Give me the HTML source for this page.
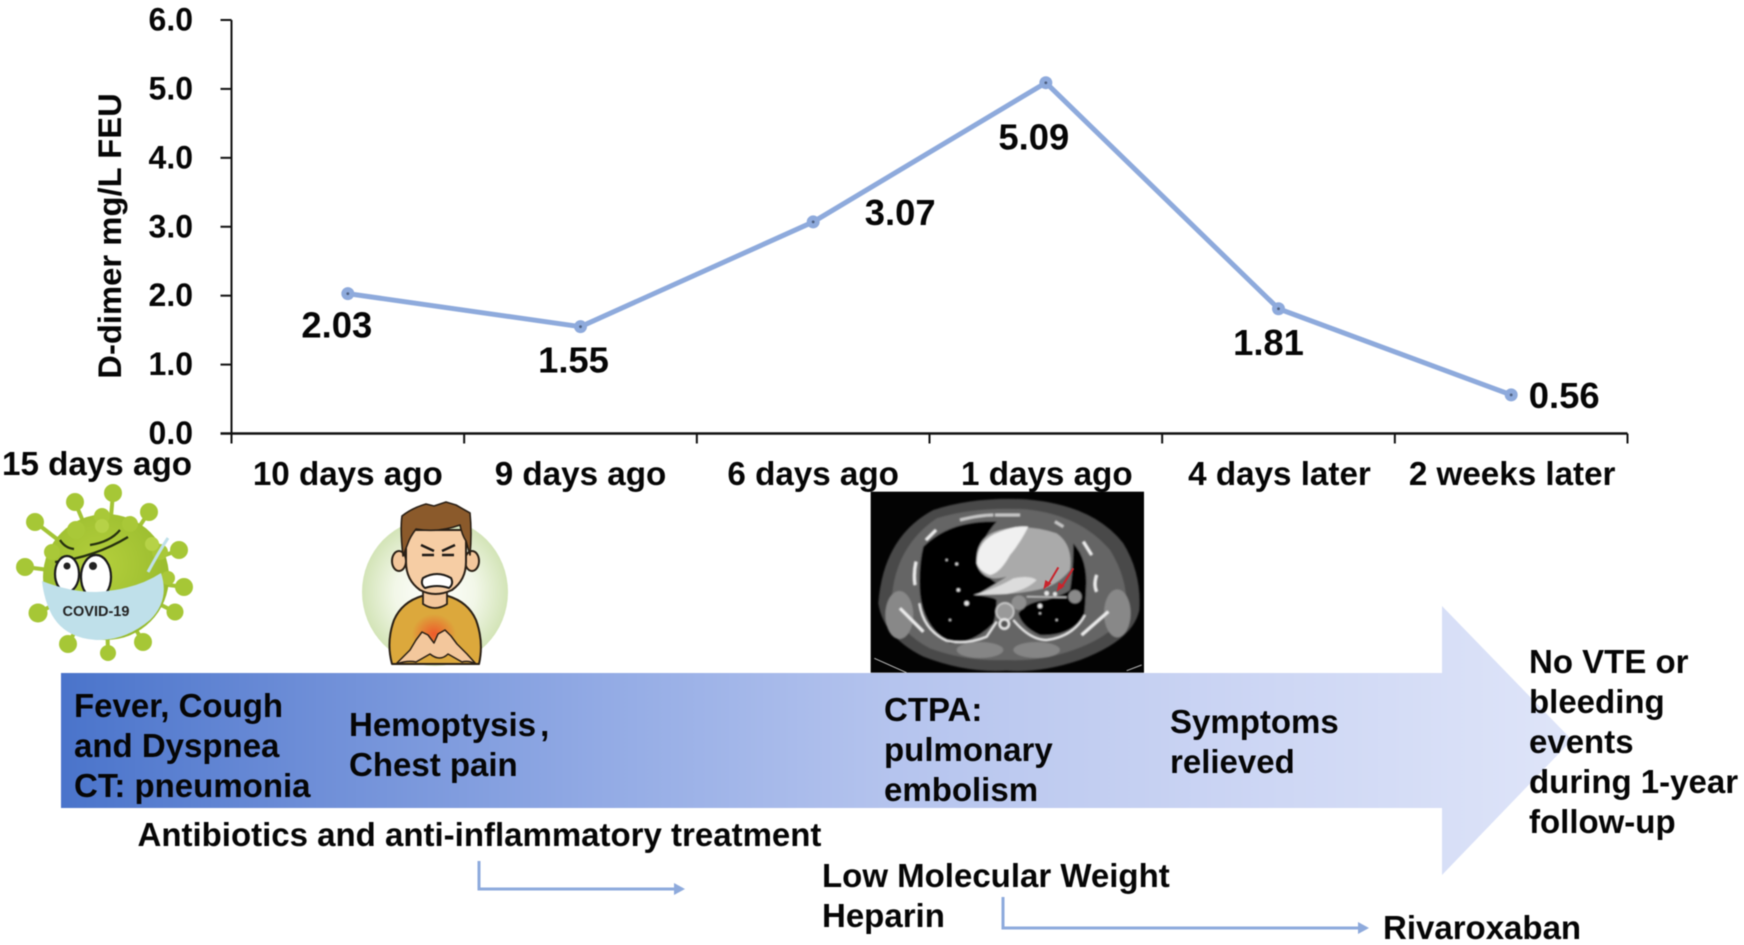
<!DOCTYPE html>
<html lang="en">
<head>
<meta charset="utf-8">
<title>D-dimer timeline</title>
<style>
  html,body{margin:0;padding:0;background:#fff;width:1744px;height:945px;overflow:hidden}
  #figure{position:absolute;left:0;top:0;filter:blur(.5px)}
  text{font-family:"Liberation Sans",sans-serif;font-weight:700;fill:#060606}
  .body-text{font-size:33px}
  .cat{font-size:33.2px;text-anchor:middle}
  .ytick{font-size:32px;text-anchor:end}
  .val{font-size:36.4px;text-anchor:middle}
</style>
</head>
<body>
<svg id="figure" xmlns="http://www.w3.org/2000/svg" width="1744" height="945" viewBox="0 0 1744 945">
  <defs>
    <linearGradient id="arrowGrad" gradientUnits="userSpaceOnUse" x1="61" y1="0" x2="1572" y2="0">
      <stop offset="0" stop-color="#4a74cb"/>
      <stop offset=".17" stop-color="#6f8fd8"/>
      <stop offset=".36" stop-color="#93abe5"/>
      <stop offset=".55" stop-color="#b5c4ee"/>
      <stop offset=".75" stop-color="#c9d3f3"/>
      <stop offset="1" stop-color="#dfe5f9"/>
    </linearGradient>
    <radialGradient id="haloGrad" cx=".5" cy=".5" r=".5">
      <stop offset="0" stop-color="#ffffff"/>
      <stop offset=".55" stop-color="#f2f7e8"/>
      <stop offset="1" stop-color="#d3e4b7"/>
    </radialGradient>
    <radialGradient id="burnGrad" cx=".5" cy=".5" r=".5">
      <stop offset="0" stop-color="#ee5a2a"/>
      <stop offset="1" stop-color="#ee5a2a" stop-opacity="0"/>
    </radialGradient>
    <radialGradient id="virusGrad" cx=".45" cy=".4" r=".6">
      <stop offset="0" stop-color="#b4cf3c"/>
      <stop offset="1" stop-color="#98bb2e"/>
    </radialGradient>
    <filter id="ctBlur"><feGaussianBlur stdDeviation="2.4"/></filter>
  </defs>

  <!-- timeline arrow -->
  <polygon fill="url(#arrowGrad)" points="61,673 1442,673 1442,606 1572,740 1442,875 1442,808 61,808"/>

  <!-- chart -->
  <g id="chart"></g>

  <text class="cat" x="97" y="475">15 days ago</text>

  <!-- virus illustration -->
  <g>
    <g stroke="#a3c435" stroke-width="4" fill="#a3c435">
      <line x1="106" y1="577" x2="113" y2="493"/><line x1="106" y1="577" x2="75" y2="502"/>
      <line x1="106" y1="577" x2="35" y2="522"/><line x1="106" y1="577" x2="25" y2="567"/>
      <line x1="106" y1="577" x2="38" y2="613"/><line x1="106" y1="577" x2="68" y2="644"/>
      <line x1="106" y1="577" x2="108" y2="653"/><line x1="106" y1="577" x2="143" y2="642"/>
      <line x1="106" y1="577" x2="175" y2="612"/><line x1="106" y1="577" x2="184" y2="587"/>
      <line x1="106" y1="577" x2="179" y2="550"/><line x1="106" y1="577" x2="149" y2="512"/>
    </g>
    <g fill="#a6c736">
      <circle cx="113" cy="493" r="9"/><circle cx="75" cy="502" r="9"/><circle cx="35" cy="522" r="9"/>
      <circle cx="25" cy="567" r="9"/><circle cx="38" cy="613" r="9.5"/><circle cx="68" cy="644" r="9"/>
      <circle cx="108" cy="653" r="8"/><circle cx="143" cy="642" r="9"/><circle cx="175" cy="612" r="8.5"/>
      <circle cx="184" cy="587" r="9"/><circle cx="179" cy="550" r="9"/><circle cx="149" cy="512" r="9"/>
    </g>
    <circle cx="106" cy="577" r="63" fill="url(#virusGrad)"/>
    <g fill="#a9c838">
      <circle cx="76" cy="530" r="9"/><circle cx="102" cy="516" r="8"/><circle cx="130" cy="524" r="8"/>
      <circle cx="52" cy="552" r="8"/><circle cx="160" cy="552" r="8"/><circle cx="168" cy="578" r="7"/>
    </g>
    <circle cx="102" cy="526" r="7" fill="#b6d247"/>
    <circle cx="152" cy="544" r="7" fill="#b6d247"/>
    <path d="M60 540q5 8 14 9M90 545q20 -3 30 -15M55 562q40 -5 73 -25" stroke="#26300f" stroke-width="2.2" fill="none"/>
    <ellipse cx="67" cy="574" rx="12" ry="18" fill="#fff" stroke="#1b1b1b" stroke-width="2.2"/>
    <ellipse cx="96" cy="577" rx="15" ry="22" fill="#fff" stroke="#1b1b1b" stroke-width="2.2"/>
    <circle cx="67" cy="566" r="3.5" fill="#222"/><circle cx="93" cy="566" r="4" fill="#222"/>
    <path d="M42 581Q70 592 96 592Q135 590 161 573Q170 600 150 620Q125 641 96 640Q65 638 52 615Q44 600 42 581z" fill="#bfe0ea"/>
    <path d="M148 572q12 -22 20 -34" stroke="#bfe0ea" stroke-width="3" fill="none"/>
    <text x="96" y="616" text-anchor="middle" style="font-size:14.5px;fill:#222">COVID-19</text>
  </g>

  <!-- patient illustration -->
  <g stroke-linejoin="round">
    <ellipse cx="435" cy="592" rx="73" ry="74" fill="url(#haloGrad)"/>
    <path d="M392 664q-6 -22 2 -44q8 -18 28 -24q13 -2 26 0q20 6 28 24q8 22 3 44z" fill="#dca83c" stroke="#2a2016" stroke-width="2"/>
    <ellipse cx="434" cy="634" rx="22" ry="20" fill="url(#burnGrad)"/>
    <path d="M396 664l14 -14 6 -10 6 -8 6 3 6 8 4 -9 7 -4 6 6 6 8 10 10 9 10q-8 -4 -14 -2l-14 -8q-8 8 -18 0l-14 8q-8 -2 -20 2z" fill="#f3c79c" stroke="#2a2016" stroke-width="1.5"/>
    <path d="M423 590v14q12 8 24 0v-14z" fill="#f3c79c" stroke="#2a2016" stroke-width="1.8"/>
    <ellipse cx="399" cy="561" rx="7" ry="10" fill="#f3c79c" stroke="#2a2016" stroke-width="2"/>
    <ellipse cx="472" cy="561" rx="7" ry="10" fill="#f3c79c" stroke="#2a2016" stroke-width="2"/>
    <path d="M406 530h60v32q0 18 -14 28q-17 8 -32 0q-14 -10 -14 -28z" fill="#f6cda4" stroke="#2a2016" stroke-width="2"/>
    <path d="M403 556q-3 -26 -1 -40q10 -8 24 -12l8 2 12 -4 10 3 14 8q2 20 0 42l-4 -14q-4 -6 -6 -16q-22 8 -44 4q-6 8 -8 14z" fill="#8b5a2b" stroke="#2a2016" stroke-width="1.6"/>
    <path d="M421 545l13 6M455 545l-13 6M422 555h12M442 555h12" stroke="#1e1a16" stroke-width="2.4" fill="none"/>
    <path d="M423 578q14 -8 28 0q3 6 -2 10q-12 -4 -24 0q-5 -4 -2 -10z" fill="#fff" stroke="#1e1a16" stroke-width="2"/>
  </g>

  <!-- CT scan -->
  <g transform="translate(840 480) scale(.33333)">
    <rect x="92" y="35" width="820" height="543" fill="#030303"/>
    <g filter="url(#ctBlur)">
      <path d="M115 370Q130 170 280 90Q400 50 560 58Q760 75 850 190Q905 280 898 390Q880 480 720 540Q600 580 500 572Q380 580 250 530Q130 470 115 370z" fill="#4a4a4a"/>
      <path d="M155 360Q165 200 290 115Q400 80 560 88Q720 105 810 210Q860 290 860 380Q840 460 700 510Q600 545 500 540Q380 545 270 505Q165 450 155 360z" fill="#656565"/>
      <ellipse cx="178" cy="405" rx="42" ry="72" fill="#888"/>
      <ellipse cx="832" cy="400" rx="40" ry="72" fill="#888"/>
      <ellipse cx="420" cy="510" rx="70" ry="24" fill="#858585"/>
      <ellipse cx="590" cy="510" rx="70" ry="24" fill="#858585"/>
      <path d="M250 200Q330 120 470 125Q420 180 410 250Q440 290 470 310Q440 340 400 345Q460 350 470 360Q470 400 460 430Q400 490 330 490Q250 440 240 340Q235 260 250 200z" fill="#020202"/>
      <path d="M700 190Q745 240 738 330Q735 400 730 415Q680 470 600 465Q545 440 535 400Q560 365 620 360Q680 340 690 330Q700 270 700 190z" fill="#020202"/>
      <path d="M410 250Q405 170 480 150Q560 130 650 160Q700 195 690 270Q650 320 590 330Q520 345 410 345Q470 310 500 290Q460 300 440 290Q415 275 410 250z" fill="#aaa"/>
      <path d="M410 250Q410 180 480 155Q530 135 565 140Q540 190 510 225Q480 280 450 285Q420 275 410 250z" fill="#f0f0f0"/>
      <path d="M400 345Q470 325 520 295Q570 285 590 300Q560 330 500 342z" fill="#dcdcdc"/>
      <circle cx="537" cy="368" r="22" fill="#8e8e8e"/>
      <circle cx="705" cy="350" r="20" fill="#8a8a8a"/>
      <ellipse cx="495" cy="395" rx="26" ry="26" fill="#999" stroke="#ccc" stroke-width="5"/>
      <circle cx="493" cy="432" r="14" fill="#555" stroke="#e8e8e8" stroke-width="7"/>
      <path d="M238 370Q250 450 320 482Q380 495 440 470L470 425" stroke="#eaeaea" stroke-width="6" fill="none"/>
      <path d="M735 405Q700 470 620 480Q570 480 520 420" stroke="#eaeaea" stroke-width="6" fill="none"/>
      <path d="M228 245Q220 280 225 315M288 150L258 180M730 185L755 225M770 285Q760 315 770 335M180 385L250 455M805 395L725 465" stroke="#eeeeee" stroke-width="9" fill="none"/>
      <path d="M360 120Q420 105 460 105M465 105H540M645 125L670 140" stroke="#c8c8c8" stroke-width="9" fill="none"/>
      <g fill="#e8e8e8">
        <circle cx="350" cy="252" r="4"/><circle cx="320" cy="240" r="3"/><circle cx="355" cy="330" r="5"/>
        <circle cx="380" cy="370" r="7"/><circle cx="330" cy="420" r="3"/><circle cx="600" cy="378" r="7"/>
        <circle cx="600" cy="400" r="3"/><circle cx="650" cy="420" r="3"/><circle cx="620" cy="340" r="7"/><circle cx="645" cy="342" r="6"/>
      </g>
      <path d="M560 350L680 352" stroke="#bbb" stroke-width="5"/>
    </g>
    <path d="M655 262L622 318M700 265L662 325" stroke="#c9242c" stroke-width="6" fill="none"/>
    <path d="M610 328l6 -28 18 11zM650 335l6 -28 18 11z" fill="#c9242c"/>
    <path d="M103 535L200 578M905 555L860 572" stroke="#bbb" stroke-width="3" fill="none"/>
  </g>

  <!-- arrow text -->
  <g class="body-text">
    <text x="74" y="717">Fever, Cough</text>
    <text x="74" y="757">and Dyspnea</text>
    <text x="74" y="797">CT: pneumonia</text>
  </g>
  <g class="body-text">
    <text x="349" y="736">Hemoptysis<tspan dx="4">,</tspan></text>
    <text x="349" y="776">Chest pain</text>
  </g>
  <g class="body-text">
    <text x="884" y="721">CTPA:</text>
    <text x="884" y="761">pulmonary</text>
    <text x="884" y="801">embolism</text>
  </g>
  <g class="body-text">
    <text x="1170" y="733">Symptoms</text>
    <text x="1170" y="773">relieved</text>
  </g>
  <g class="body-text">
    <text x="1529" y="673">No VTE or</text>
    <text x="1529" y="713">bleeding</text>
    <text x="1529" y="753">events</text>
    <text x="1529" y="793">during 1-year</text>
    <text x="1529" y="833">follow-up</text>
  </g>

  <!-- treatment -->
  <text class="body-text" x="137.5" y="846">Antibiotics and anti-inflammatory treatment</text>
  <g class="body-text">
    <text x="822" y="887">Low Molecular Weight</text>
    <text x="822" y="927">Heparin</text>
  </g>
  <text class="body-text" x="1383" y="939">Rivaroxaban</text>
  <g>
    <path d="M479 861V889H675" fill="none" stroke="#8eaadc" stroke-width="3"/>
    <polygon points="674,883 685,889 674,895" fill="#8eaadc"/>
  </g>
  <g>
    <path d="M1003 897V928H1359" fill="none" stroke="#8eaadc" stroke-width="3"/>
    <polygon points="1358,922 1369,928 1358,934" fill="#8eaadc"/>
  </g>
</svg>

<script>
const categories = ["10 days ago", "9 days ago", "6 days ago", "1 days ago", "4 days later", "2 weeks later"];
const dDimer = [2.03, 1.55, 3.07, 5.09, 1.81, 0.56];
const valueLabels = ["2.03", "1.55", "3.07", "5.09", "1.81", "0.56"];
const yTicks = [0, 1, 2, 3, 4, 5, 6];
const yTickLabels = ["0.0", "1.0", "2.0", "3.0", "4.0", "5.0", "6.0"];

const NS = "http://www.w3.org/2000/svg";
const chart = document.getElementById("chart");
const plotLeft = 231.5, plotWidth = 1396, plotBottom = 433.5, plotTop = 20;
const yMax = 6;

function xBand(i) { return plotLeft + plotWidth * i / categories.length; }
function xCenter(i) { return plotLeft + plotWidth * (i + 0.5) / categories.length; }
function yScale(v) { return plotBottom - (plotBottom - plotTop) * v / yMax; }

function labelDx(i) {
  switch (i) { case 0: return -11; case 1: return -7; case 2: return 87; case 3: return -12; case 4: return -10; default: return 53; }
}
function labelDy(i) {
  switch (i) { case 0: return 44; case 1: return 46; case 2: return 3; case 3: return 67; case 4: return 46; default: return 13; }
}

function make(tag, parent) {
  const el = document.createElementNS(NS, tag);
  parent.appendChild(el);
  return el;
}

/* y axis */
const yAxis = make("line", chart);


yAxis.setAttribute("x1", plotLeft); yAxis.setAttribute("x2", plotLeft);
yAxis.setAttribute("y1", plotTop); yAxis.setAttribute("y2", plotBottom);
yAxis.setAttribute("stroke", "#111"); yAxis.setAttribute("stroke-width", "2");

yTicks.forEach(function (t, i) {
  const tick = make("line", chart);
  
  
  tick.setAttribute("x1", plotLeft - 11); tick.setAttribute("x2", plotLeft);
  tick.setAttribute("y1", yScale(t)); tick.setAttribute("y2", yScale(t));
  tick.setAttribute("stroke", "#111"); tick.setAttribute("stroke-width", "2");
  const label = make("text", chart);
  
  
  label.setAttribute("class", "ytick");
  label.setAttribute("x", 193);
  label.setAttribute("y", yScale(t) + 10.5);
  label.textContent = yTickLabels[i];
});

/* y title */
const yTitle = make("text", chart);


yTitle.setAttribute("transform", "translate(121 236) rotate(-90)");
yTitle.setAttribute("text-anchor", "middle");
yTitle.setAttribute("style", "font-size:32.8px");
yTitle.textContent = "D-dimer mg/L FEU";

/* x axis */
const xAxis = make("line", chart);


xAxis.setAttribute("x1", plotLeft - 11); xAxis.setAttribute("x2", plotLeft + plotWidth);
xAxis.setAttribute("y1", plotBottom); xAxis.setAttribute("y2", plotBottom);
xAxis.setAttribute("stroke", "#111"); xAxis.setAttribute("stroke-width", "2.4");

for (let i = 0; i <= categories.length; i++) {
  const tick = make("line", chart);
  
  
  tick.setAttribute("x1", xBand(i)); tick.setAttribute("x2", xBand(i));
  tick.setAttribute("y1", plotBottom); tick.setAttribute("y2", plotBottom + 10);
  tick.setAttribute("stroke", "#111"); tick.setAttribute("stroke-width", "2");
}

categories.forEach(function (c, i) {
  const label = make("text", chart);
  
  
  label.setAttribute("class", "cat");
  label.setAttribute("x", xCenter(i) + (i > 2 ? 1 : 0));
  label.setAttribute("y", 485);
  label.textContent = c;
});

/* series */
const series = make("polyline", chart);


series.setAttribute("fill", "none");
series.setAttribute("stroke", "#8eaadc");
series.setAttribute("stroke-width", "5");
series.setAttribute("stroke-linejoin", "round");
series.setAttribute("points", dDimer.map(function (v, i) { return xCenter(i) + "," + yScale(v); }).join(" "));

dDimer.forEach(function (v, i) {
  const pt = make("circle", chart);
  
  
  pt.setAttribute("cx", xCenter(i)); pt.setAttribute("cy", yScale(v));
  pt.setAttribute("r", "6.5"); pt.setAttribute("fill", "#8eaadc");
  const dot = make("circle", chart);
  
  
  dot.setAttribute("cx", xCenter(i)); dot.setAttribute("cy", yScale(v));
  dot.setAttribute("r", "1.4"); dot.setAttribute("fill", "#4d5f80");
  const label = make("text", chart);
  
  
  label.setAttribute("class", "val");
  label.setAttribute("x", xCenter(i) + labelDx(i));
  label.setAttribute("y", yScale(v) + labelDy(i));
  label.textContent = valueLabels[i];
});
</script>
</body>
</html>
